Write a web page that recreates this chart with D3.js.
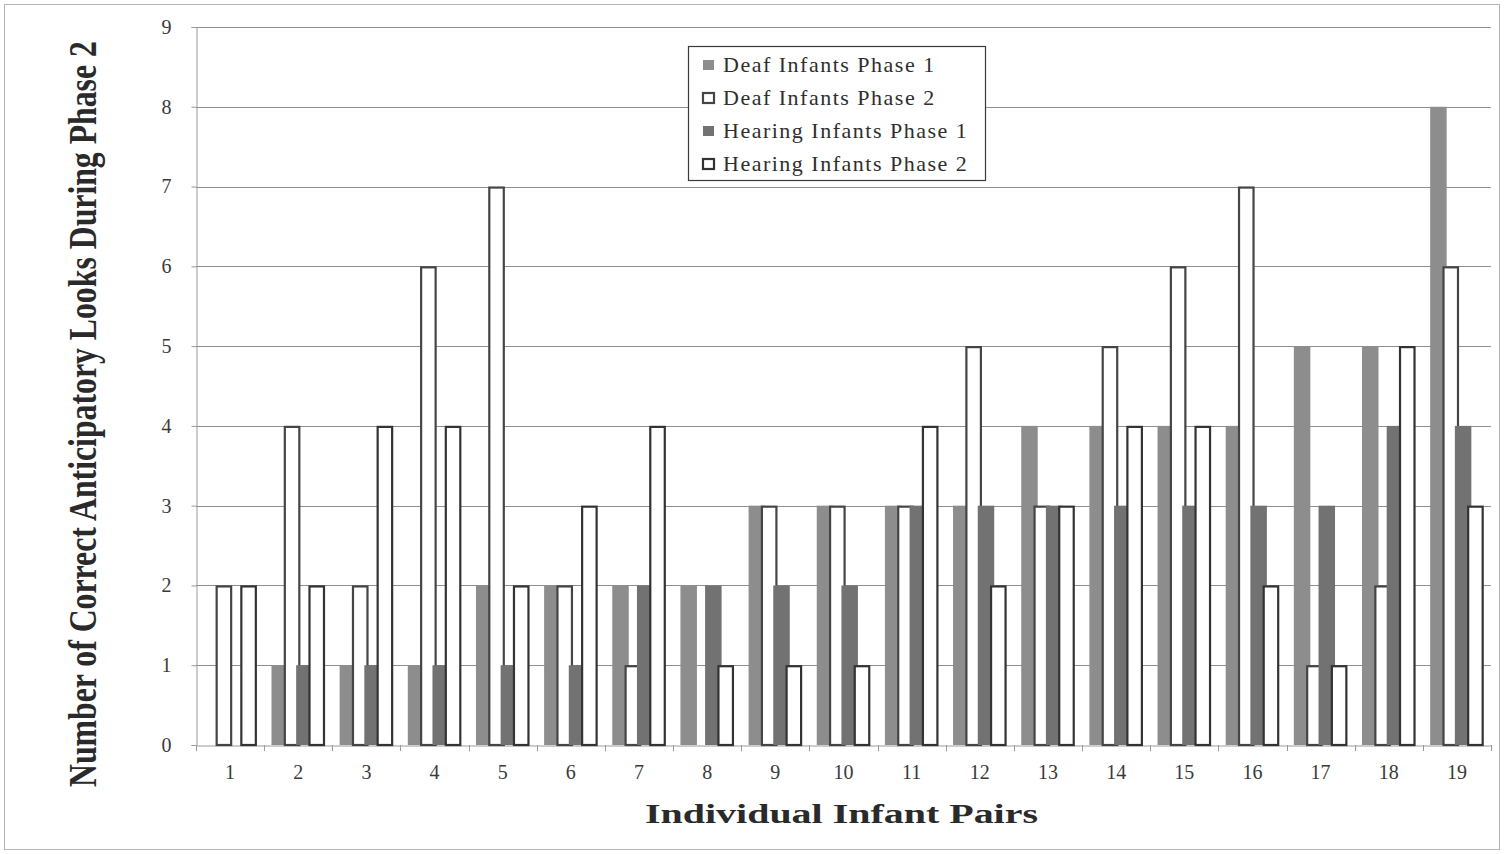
<!DOCTYPE html>
<html>
<head>
<meta charset="utf-8">
<script src="https://cdn.jsdelivr.net/npm/d3@7"></script>
<style>
  html, body { margin: 0; padding: 0; background: #fff; }
  svg { display: block; }
</style>
</head>
<body>
<svg id="chart" width="1504" height="854"></svg>
<script>
const categories = ["1","2","3","4","5","6","7","8","9","10","11","12","13","14","15","16","17","18","19"];
const seriesNames = ["Deaf Infants Phase 1","Deaf Infants Phase 2","Hearing Infants Phase 1","Hearing Infants Phase 2"];
const deafPhase1    = [0,1,1,1,2,2,2,2,3,3,3,3,4,4,4,4,5,5,8];
const deafPhase2    = [2,4,2,6,7,2,1,0,3,3,3,5,3,5,6,7,1,2,6];
const hearingPhase1 = [0,1,1,1,1,1,2,2,2,2,3,3,3,3,3,3,3,4,4];
const hearingPhase2 = [2,2,4,4,2,3,4,1,1,1,4,2,3,4,4,2,1,5,3];
const yTicks = [0,1,2,3,4,5,6,7,8,9];

const series = [
  {name: seriesNames[0], values: deafPhase1,    fill: "#8d8d8d", stroke: "none"},
  {name: seriesNames[1], values: deafPhase2,    fill: "#ffffff", stroke: "#454545"},
  {name: seriesNames[2], values: hearingPhase1, fill: "#727272", stroke: "none"},
  {name: seriesNames[3], values: hearingPhase2, fill: "#ffffff", stroke: "#333333"}
];

const svg = d3.select("#chart");
const mLeft = 196, mRight = 1491, mTop = 27, mBottom = 745;

// outer border
svg.append("rect").attr("x", 4.5).attr("y", 4.5).attr("width", 1495).attr("height", 845)
  .attr("fill", "#fff").attr("stroke", "#b5b5b5").attr("stroke-width", 1);

const x = d3.scaleBand().domain(categories).range([mLeft, mRight]).padding(0);
const y = d3.scaleLinear().domain([0, 9]).range([mBottom, mTop]);

// gridlines
svg.append("g").selectAll("line").data(yTicks.filter(d => d > 0)).join("line")
  .attr("x1", mLeft).attr("x2", mRight)
  .attr("y1", d => Math.round(y(d)) + 0.5).attr("y2", d => Math.round(y(d)) + 0.5)
  .attr("stroke", "#8f8f8f").attr("stroke-width", 1);

// y axis
const yAxis = d3.axisLeft(y).tickValues(yTicks).tickSize(5).tickPadding(20).tickFormat(d3.format("d"));
const gy = svg.append("g").attr("transform", `translate(${mLeft + 0.5},0)`).call(yAxis);
gy.select(".domain").attr("stroke", "#9a9a9a");
gy.selectAll(".tick line").attr("stroke", "#9a9a9a");
gy.selectAll("text").attr("font-family", "Liberation Serif, serif").attr("font-size", 20).attr("fill", "#3a3a3a");

// x axis
const xAxis = d3.axisBottom(x).tickSize(0).tickPadding(19);
const gx = svg.append("g").attr("transform", `translate(0,${mBottom + 0.5})`).call(xAxis);
gx.select(".domain").attr("stroke", "#9a9a9a");
gx.selectAll("text").attr("font-family", "Liberation Serif, serif").attr("font-size", 20).attr("fill", "#3a3a3a");
// category boundary ticks
svg.append("g").selectAll("line").data(d3.range(categories.length + 1)).join("line")
  .attr("x1", i => Math.round(mLeft + i * x.step()) + 0.5).attr("x2", i => Math.round(mLeft + i * x.step()) + 0.5)
  .attr("y1", mBottom).attr("y2", mBottom + 6)
  .attr("stroke", "#9a9a9a");

// bars
const bw = x.bandwidth() * 0.242;
const step = x.bandwidth() * 0.181;
const span = 3 * step + bw;
series.forEach((s, si) => {
  const hollow = s.stroke !== "none";
  const g = svg.append("g");
  g.selectAll("rect").data(s.values.map((v, i) => ({v, c: categories[i]})).filter(d => d.v > 0)).join("rect")
    .attr("x", d => x(d.c) + x.bandwidth() / 2 - span / 2 + si * step + (hollow ? 1 : 0))
    .attr("y", d => y(d.v) + (hollow ? 1 : 0))
    .attr("width", bw - (hollow ? 2 : 0))
    .attr("height", d => y(0) - y(d.v) - (hollow ? 1 : 0))
    .attr("fill", s.fill)
    .attr("stroke", s.stroke)
    .attr("stroke-width", hollow ? 2.2 : 0);
});

// legend
const lg = svg.append("g").attr("transform", "translate(688,46)");
lg.append("rect").attr("x", 0.5).attr("y", 0.5).attr("width", 297).attr("height", 134)
  .attr("fill", "#fff").attr("stroke", "#3a3a3a").attr("stroke-width", 1.2);
series.forEach((s, i) => {
  const cy = 19 + i * 33;
  const hollow = s.stroke !== "none";
  lg.append("rect").attr("x", 15).attr("y", cy - 5).attr("width", 11).attr("height", 10)
    .attr("fill", s.fill)
    .attr("stroke", hollow ? s.stroke : "none")
    .attr("stroke-width", hollow ? 2.2 : 0);
  lg.append("text").attr("x", 35).attr("y", cy + 7)
    .attr("font-family", "Liberation Serif, serif").attr("font-size", 22).attr("letter-spacing", 1.5)
    .attr("fill", "#2e2e2e")
    .text(s.name);
});

// axis titles
svg.append("text").attr("x", 645).attr("y", 823)
  .attr("font-family", "Liberation Serif, serif").attr("font-weight", "bold").attr("font-size", 28)
  .attr("textLength", 393).attr("lengthAdjust", "spacingAndGlyphs")
  .attr("fill", "#2a2a2a").text("Individual Infant Pairs");

const yTitle = svg.append("text")
  .attr("font-family", "Liberation Serif, serif").attr("font-weight", "bold").attr("font-size", 40)
  .attr("fill", "#2a2a2a").text("Number of Correct Anticipatory Looks During Phase 2");
const natLen = yTitle.node().getComputedTextLength();
const sx = 746 / natLen;
yTitle.attr("transform", `translate(96,787) rotate(-90) scale(${sx},1)`);
</script>
</body>
</html>
